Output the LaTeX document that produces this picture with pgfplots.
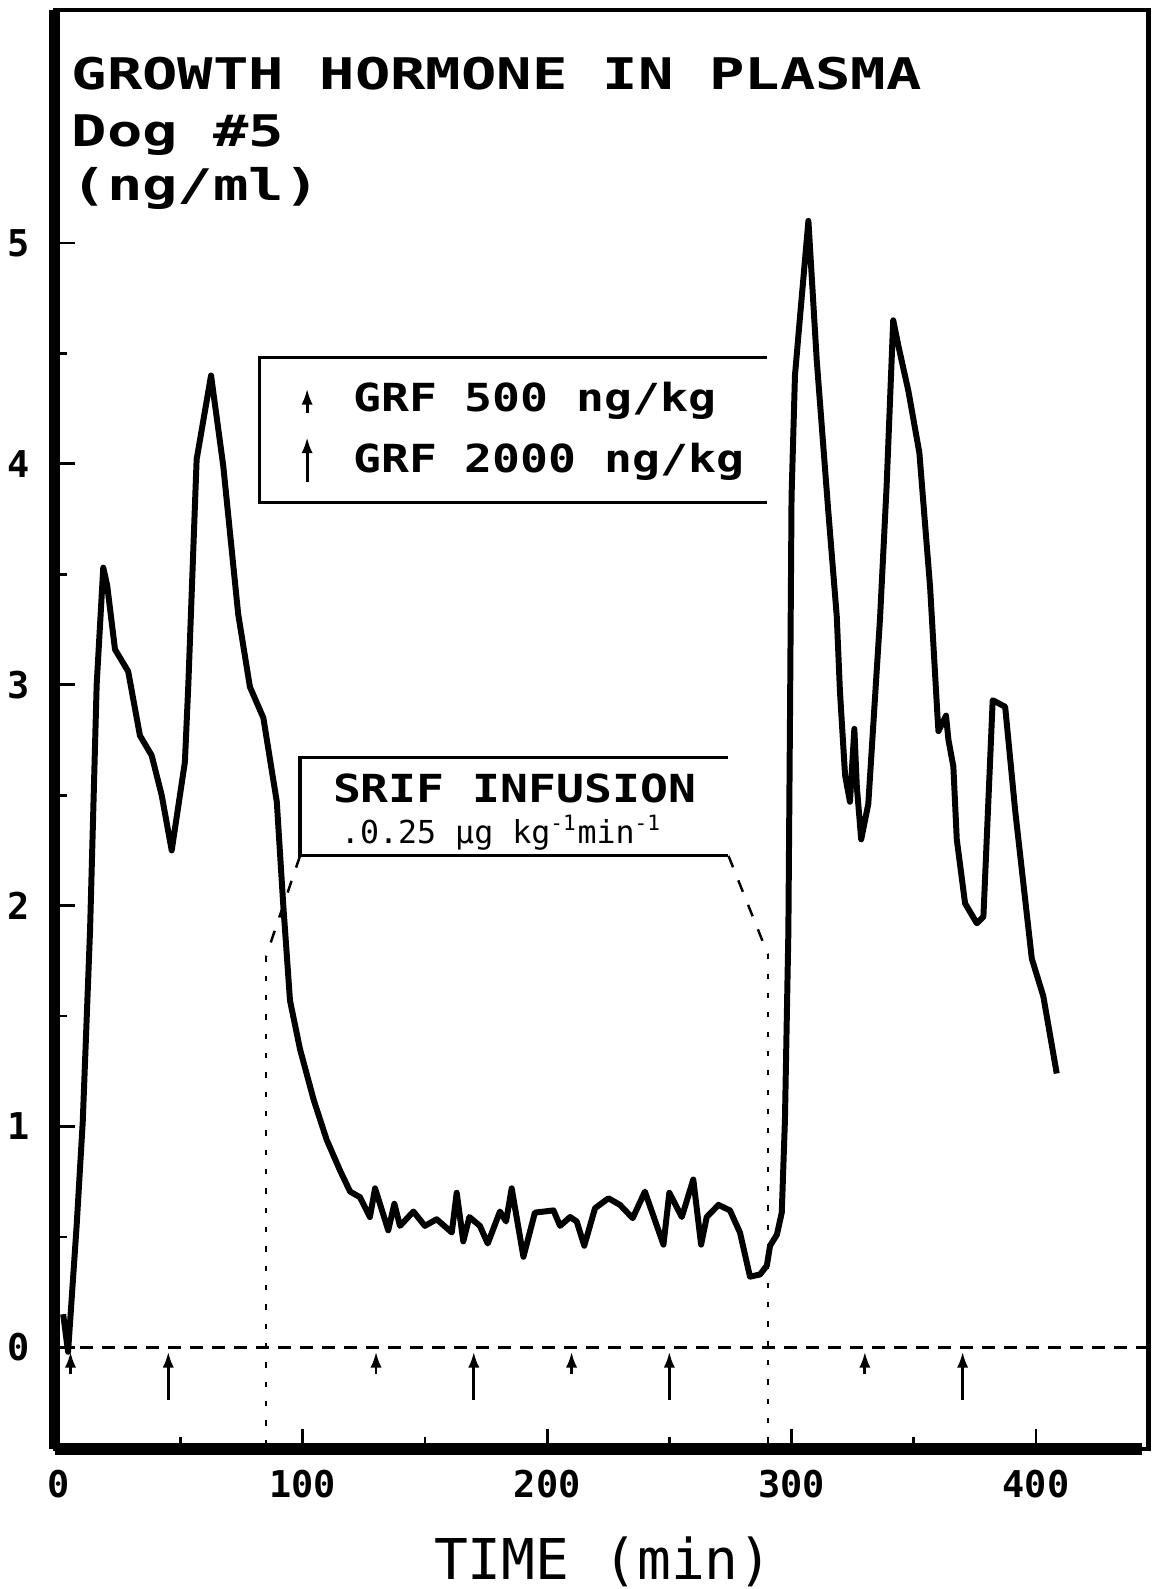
\documentclass[border=0pt]{standalone}
\usepackage{fontspec}
\setmainfont{DejaVu Sans Mono}
\newfontfamily\fwide[FakeStretch=1.35]{DejaVu Sans Mono}
\newfontfamily\fmed[FakeStretch=1.2]{DejaVu Sans Mono}
\usepackage{pgfplots}
\pgfplotsset{compat=1.18}
\usetikzlibrary{arrows.meta}

% GH in plasma, dog #5 (ng/ml) vs time (min)
\pgfplotstableread{
t gh
2 0.15
4 -0.02
7.5 0.55
10 1.02
13 1.89
15.7 3.0
18.4 3.53
20 3.45
23.2 3.16
28.6 3.06
33.4 2.77
38.2 2.68
42.3 2.50
46.4 2.25
51.8 2.65
53.2 3.0
56.6 4.02
62.5 4.40
67.5 3.99
73.6 3.32
78.4 2.99
83.9 2.85
89.4 2.47
92 2.01
94.8 1.57
98.9 1.35
104.5 1.12
109.8 0.94
115.3 0.80
119.4 0.705
123.4 0.68
127.5 0.59
129.6 0.72
135 0.53
137.5 0.65
139.8 0.55
145.3 0.615
150 0.55
154.8 0.58
161 0.52
163 0.70
165.7 0.48
168.2 0.59
172.5 0.55
175.7 0.47
180.7 0.615
183.2 0.57
185.5 0.72
190.3 0.41
195 0.61
202.6 0.62
205.3 0.55
209.4 0.59
212.1 0.57
215.2 0.46
219.6 0.63
225.1 0.675
229.8 0.645
235 0.585
240 0.705
247.6 0.465
250 0.70
255.1 0.59
259.8 0.76
263 0.465
265.3 0.59
270.1 0.645
274.8 0.62
278.9 0.52
283 0.32
287.1 0.33
289.9 0.37
291.2 0.46
294 0.51
296 0.61
297.3 1.03
298.7 1.88
299.4 2.90
300 3.85
301.4 4.40
303.5 4.67
306.9 5.10
310.3 4.47
315 3.79
318.5 3.31
319.8 2.97
321.9 2.59
323.9 2.47
325.7 2.80
326.7 2.54
328.5 2.30
331.4 2.46
336.2 3.30
338.9 3.90
341.6 4.65
343.7 4.535
347.8 4.33
352.3 4.05
356.7 3.44
359.7 2.86
360.1 2.79
363.2 2.86
364.2 2.75
366.2 2.63
367.6 2.30
371 2.01
375.8 1.92
378.5 1.95
382.3 2.93
387.4 2.90
391.5 2.43
398.3 1.76
403 1.59
408.5 1.24
}\ghdata

% GRF injections: short arrow = 500 ng/kg, long = 2000 ng/kg
\pgfplotstableread{
t y v
5 -0.12 0.10
45 -0.24 0.22
130 -0.12 0.10
170 -0.24 0.22
210 -0.12 0.10
250 -0.24 0.22
330 -0.12 0.10
370 -0.24 0.22
}\grf

\begin{document}
\begin{tikzpicture}
\begin{axis}[
    scale only axis,
    width=10.935cm, height=14.39cm,
    xmin=-1.4, xmax=446, ymin=-0.46, ymax=6.055,
    xtick={0,100,...,400}, minor xtick={50,150,250,350},
    ytick={0,...,5}, minor ytick={0.5,1.5,...,4.5},
    tick pos=left, tick align=inside,
    major tick length=0.2cm, minor tick length=0.12cm,
    every tick/.style={black, line width=0.8pt},
    tick label style={font=\bfseries\fontsize{10.5}{12}\selectfont, inner sep=0pt},
    /pgf/number format/assume math mode=true,
    xticklabel style={yshift=-0.2cm},
    yticklabel style={xshift=-0.24cm},
    axis line style={line width=1.2pt},
    clip=false,
]
% heavier left and bottom spines
\draw[line width=3.2pt] (rel axis cs:0,0) -- (rel axis cs:0,1);
\draw[line width=3.2pt] (rel axis cs:0,0) -- ([xshift=-1.8pt]rel axis cs:1,0);

\addplot[black, line width=0.9pt, dash pattern=on 0.13cm off 0.09cm] coordinates {(0,0) (446,0)};
\addplot[black, line width=1.7pt, line join=round] table[x=t, y=gh] {\ghdata};
\addplot[black, line width=0.8pt, -{Latex[length=4.5pt,width=3.2pt]},
    quiver={u=0, v=\thisrow{v}}] table[x=t, y=y] {\grf};

% SRIF infusion period
\draw[line width=0.7pt, dash pattern=on 1.5pt off 4pt] (axis cs:85,1.77) -- (axis cs:85,-0.46);
\draw[line width=0.7pt, dash pattern=on 1.5pt off 4pt] (axis cs:290.3,1.78) -- (axis cs:290.3,-0.46);
\draw[line width=0.7pt, dash pattern=on 3.5pt off 4pt] (axis cs:98.9,2.225) -- (axis cs:85,1.77);
\draw[line width=0.7pt, dash pattern=on 3.5pt off 4pt] (axis cs:274.2,2.225) -- (axis cs:290.3,1.78);
\draw[line width=0.9pt] (axis cs:274.2,2.67) -- (axis cs:98.9,2.67) -- (axis cs:98.9,2.225) -- (axis cs:274.2,2.225);
\node[font=\fmed\bfseries\fontsize{11}{13}\selectfont] at (axis cs:186.7,2.53) {SRIF INFUSION};
\node[font=\fontsize{9}{11}\selectfont] at (axis cs:181.3,2.33) {.0.25 μg kg\textsuperscript{-1}min\textsuperscript{-1}};

% key
\draw[line width=0.9pt] (axis cs:290,4.48) -- (axis cs:82.3,4.48) -- (axis cs:82.3,3.826) -- (axis cs:290,3.826);
\draw[line width=0.8pt, -{Latex[length=4.5pt,width=3.2pt]}] (axis cs:101.8,4.23) -- (axis cs:101.8,4.34);
\draw[line width=0.8pt, -{Latex[length=4.5pt,width=3.2pt]}] (axis cs:101.8,3.92) -- (axis cs:101.8,4.12);
\node[anchor=base west, inner sep=0, font=\fmed\bfseries\fontsize{11}{13}\selectfont] at (axis cs:120.4,4.235) {GRF 500 ng/kg};
\node[anchor=base west, inner sep=0, font=\fmed\bfseries\fontsize{11}{13}\selectfont] at (axis cs:120.4,3.96) {GRF 2000 ng/kg};

% title
\node[anchor=base west, inner sep=0, font=\fwide\bfseries\fontsize{12.4}{14}\selectfont] at (axis cs:5.2,5.697) {GROWTH HORMONE IN PLASMA};
\node[anchor=base west, inner sep=0, font=\fwide\bfseries\fontsize{12.4}{14}\selectfont] at (axis cs:5.2,5.435) {Dog \#5};
\node[anchor=base west, inner sep=0, font=\fwide\bfseries\fontsize{12.4}{14}\selectfont] at (axis cs:5.2,5.19) {(ng/ml)};

\node[anchor=base, inner sep=0, font=\fontsize{16}{19}\selectfont] at (axis cs:223,-1.05) {TIME (min)};

\path (axis cs:-23.85,-1.094) rectangle (axis cs:447.5,6.10);
\end{axis}
\end{tikzpicture}
\end{document}
